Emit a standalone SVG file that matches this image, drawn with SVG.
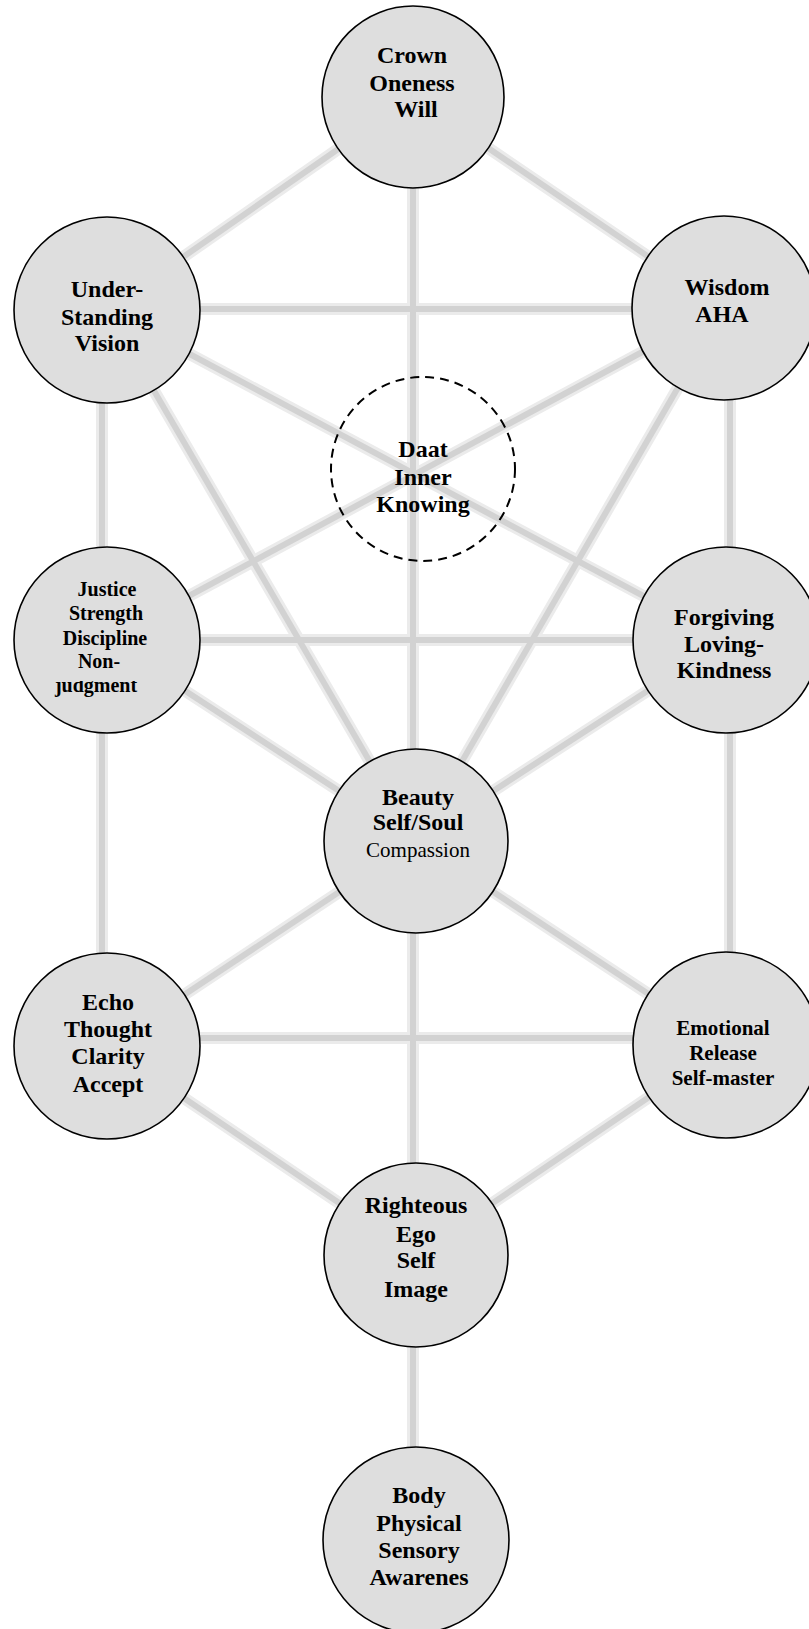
<svg xmlns="http://www.w3.org/2000/svg" width="809" height="1629" viewBox="0 0 809 1629">
<style>
.halo{stroke:#ebebeb;stroke-width:12;fill:none;stroke-linecap:butt}
.core{stroke:#d2d2d2;stroke-width:6;fill:none;stroke-linecap:butt}
.node{fill:#dedede;stroke:#000;stroke-width:1.6}
.daat{fill:none;stroke:#000;stroke-width:2;stroke-dasharray:9 6}
text{font-family:"Liberation Serif","Times New Roman",serif;font-weight:bold;font-size:24px;fill:#000;text-anchor:middle}
.s20{font-size:20px}
.s21{font-size:21px}
.reg{font-weight:normal;font-size:21px}
</style>
<defs>
<clipPath id="clipJ"><rect x="0" y="681" width="220" height="40"/></clipPath>
<g id="lines">
<line x1="413" y1="97" x2="107" y2="310"/>
<line x1="413" y1="97" x2="724" y2="308"/>
<line x1="413" y1="97" x2="413" y2="1540"/>
<line x1="107" y1="309" x2="724" y2="309"/>
<line x1="102" y1="310" x2="102" y2="1046"/>
<line x1="730" y1="308" x2="730" y2="1045"/>
<line x1="107" y1="310" x2="726" y2="640"/>
<line x1="724" y1="308" x2="107" y2="640"/>
<line x1="107" y1="310" x2="416" y2="841"/>
<line x1="724" y1="308" x2="416" y2="841"/>
<line x1="107" y1="640" x2="726" y2="640"/>
<line x1="107" y1="640" x2="416" y2="841"/>
<line x1="726" y1="640" x2="416" y2="841"/>
<line x1="416" y1="841" x2="107" y2="1046"/>
<line x1="416" y1="841" x2="726" y2="1045"/>
<line x1="107" y1="1038" x2="726" y2="1038"/>
<line x1="107" y1="1046" x2="416" y2="1255"/>
<line x1="726" y1="1045" x2="416" y2="1255"/>
</g>
</defs>
<rect width="809" height="1629" fill="#fff"/>
<g id="connectors">
<use href="#lines" class="halo"/>
<use href="#lines" class="core"/>
</g>
<g id="crown"><circle class="node" cx="413" cy="97" r="91"/>
<text x="412" y="63">Crown</text><text x="412" y="91">Oneness</text><text x="416" y="117">Will</text></g>
<g id="understanding"><circle class="node" cx="107" cy="310" r="93"/>
<text x="107" y="297">Under-</text><text x="107" y="325">Standing</text><text x="107" y="351">Vision</text></g>
<g id="wisdom"><circle class="node" cx="724" cy="308" r="92"/>
<text x="727" y="295">Wisdom</text><text x="722" y="322">AHA</text></g>
<g id="daat"><circle class="daat" cx="423" cy="469" r="92"/>
<text x="423" y="457">Daat</text><text x="423" y="485">Inner</text><text x="423" y="512">Knowing</text></g>
<g id="justice"><circle class="node" cx="107" cy="640" r="93"/>
<text class="s20" x="107" y="596">Justice</text><text class="s20" x="106" y="620">Strength</text><text class="s20" x="105" y="645">Discipline</text><text class="s20" x="99" y="668">Non-</text><text class="s20" x="96" y="692" clip-path="url(#clipJ)">judgment</text></g>
<g id="forgiving"><circle class="node" cx="726" cy="640" r="93"/>
<text x="724" y="625">Forgiving</text><text x="724" y="652">Loving-</text><text x="724" y="678">Kindness</text></g>
<g id="beauty"><circle class="node" cx="416" cy="841" r="92"/>
<text x="418" y="805">Beauty</text><text x="418" y="830">Self/Soul</text><text class="reg" x="418" y="857">Compassion</text></g>
<g id="echo"><circle class="node" cx="107" cy="1046" r="93"/>
<text x="108" y="1010">Echo</text><text x="108" y="1037">Thought</text><text x="108" y="1064">Clarity</text><text x="108" y="1092">Accept</text></g>
<g id="emotional"><circle class="node" cx="726" cy="1045" r="93"/>
<text class="s21" x="723" y="1035">Emotional</text><text class="s21" x="723" y="1060">Release</text><text class="s21" x="723" y="1085">Self-master</text></g>
<g id="righteous"><circle class="node" cx="416" cy="1255" r="92"/>
<text x="416" y="1213">Righteous</text><text x="416" y="1242">Ego</text><text x="416" y="1268">Self</text><text x="416" y="1297">Image</text></g>
<g id="body"><circle class="node" cx="416" cy="1540" r="93"/>
<text x="419" y="1503">Body</text><text x="419" y="1531">Physical</text><text x="419" y="1558">Sensory</text><text x="419" y="1585">Awarenes</text></g>
</svg>
